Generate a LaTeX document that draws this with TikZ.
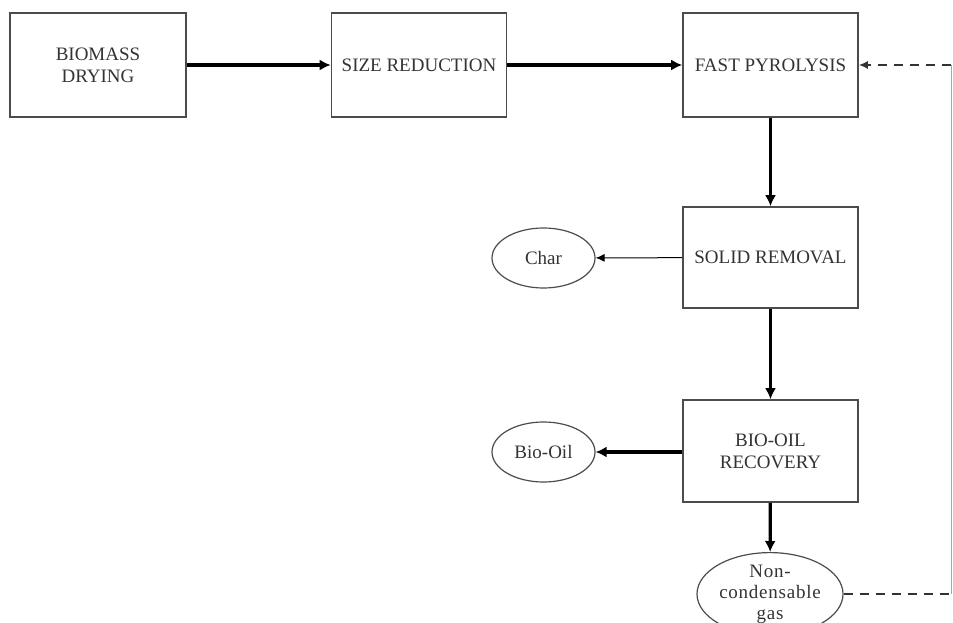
\documentclass[tikz,border=0pt]{standalone}
\usepackage{fontspec}
\setmainfont{Liberation Serif}
\usetikzlibrary{arrows.meta,shapes.geometric}
\begin{document}
\begin{tikzpicture}[x=1pt,y=-1pt,
  procbox/.style={draw=black!70,line width=1.6pt,minimum width=175pt,minimum height=104pt,inner sep=0pt,align=center,font=\fontsize{19}{22}\selectfont,text=black!80},
  prodell/.style={ellipse,draw=black!70,line width=1.2pt,minimum width=103pt,minimum height=60pt,inner sep=0pt,align=center,font=\fontsize{19}{22}\selectfont,text=black!80},
  flow/.style={line width=3.2pt,-{Latex[length=11pt,width=11pt]}},
  thinflow/.style={line width=1pt,-{Latex[length=9pt,width=8pt]}},
  recycle/.style={line width=1.5pt,dash pattern=on 9pt off 7pt,black!80}]
\useasboundingbox (0,0) rectangle (953,623);
\node[procbox,minimum width=176pt] (dry) at (98,65) {BIOMASS\\DRYING};
\node[procbox] (size) at (419,65) {SIZE REDUCTION};
\node[procbox] (pyro) at (770.5,65) {FAST PYROLYSIS};
\node[procbox,minimum height=101pt] (solid) at (770.5,257.5) {SOLID REMOVAL};
\node[procbox,minimum height=102pt] (oil) at (770.5,451) {BIO-OIL\\RECOVERY};
\node[prodell] (char) at (543.5,258) {Char};
\node[prodell] (biooil) at (543.5,452) {Bio-Oil};
\node[prodell,minimum width=146pt,minimum height=60pt,font=\fontsize{19}{21}\selectfont\addfontfeature{LetterSpace=4}] (gas) at (770,594) {Non-\\condensable\\gas};
\coordinate (c1) at (951,594);
\coordinate (c2) at (951,65);
\draw[flow] (dry) -- (size);
\draw[flow] (size) -- (pyro);
\draw[flow] (pyro) -- (solid);
\draw[flow] (solid) -- (oil);
\draw[thinflow] (solid) -- (char);
\draw[flow] (oil.west |- biooil) -- (biooil);
\draw[flow] (oil) -- (gas);
\draw[recycle] (gas) -- (c1);
\draw[line width=1pt,black!35] (c1) -- (c2);
\draw[recycle,-{Latex[length=9pt,width=8pt]}] (c2) -- (pyro);
\end{tikzpicture}
\end{document}
